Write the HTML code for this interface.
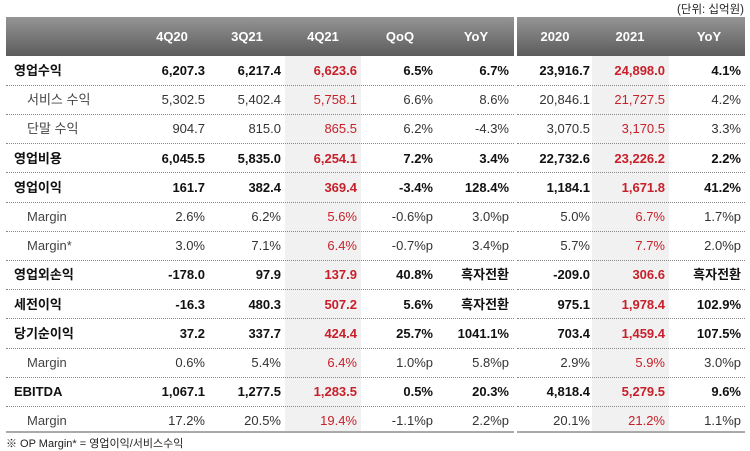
<!DOCTYPE html>
<html><head><meta charset="utf-8">
<style>
*{margin:0;padding:0;box-sizing:border-box}
body{width:750px;height:451px;background:#fff;position:relative;overflow:hidden;font-family:"Liberation Sans","Noto Sans CJK KR",sans-serif;font-size:13px;color:#222}
.hdr{position:absolute;top:17px;height:39px;background:linear-gradient(#959595,#5c5c5c)}
.h{position:absolute;top:17px;height:39px;line-height:39px;color:#fff;font-weight:bold;font-size:13px;width:80px;text-align:center;margin-left:-40px}
.shade{position:absolute;top:56px;height:376px;background:#f1f1f1}
.row{position:absolute;left:0;width:750px;height:29.2px}
.row span{position:absolute;top:0;line-height:29px;white-space:nowrap}
.row .l{left:14px}
.row .sub{left:27px;color:#444}
.v{text-align:right;width:100px}
.sep{position:absolute;height:0;border-top:1px dotted #888}
.b span{font-weight:bold;color:#111}
.r{color:#c8202a!important}
.n span{color:#333}
</style></head><body>
<div style="position:absolute;right:6px;top:1px;font-size:11.5px;color:#222">(단위: 십억원)</div>
<div class="hdr" style="left:6px;width:508px"></div>
<div class="hdr" style="left:517px;width:228px"></div>
<div class="h" style="left:172px">4Q20</div>
<div class="h" style="left:247px">3Q21</div>
<div class="h" style="left:323px">4Q21</div>
<div class="h" style="left:400px">QoQ</div>
<div class="h" style="left:476px">YoY</div>
<div class="h" style="left:555px">2020</div>
<div class="h" style="left:630px">2021</div>
<div class="h" style="left:709px">YoY</div>
<div class="shade" style="left:285px;width:76px"></div>
<div class="shade" style="left:592px;width:77px"></div>
<div id="rows"></div>
<div style="position:absolute;left:6px;top:431px;width:508px;border-top:2px solid #aaa"></div>
<div style="position:absolute;left:517px;top:431px;width:228px;border-top:2px solid #aaa"></div>
<div style="position:absolute;left:6px;top:435px;font-size:11px;color:#222">※ OP Margin* = 영업이익/서비스수익</div>

<div class="row b" style="top:56px"><span class="l">영업수익</span><span class="v" style="left:105px">6,207.3</span><span class="v" style="left:181px">6,217.4</span><span class="v r" style="left:257px">6,623.6</span><span class="v" style="left:333px">6.5%</span><span class="v" style="left:409px">6.7%</span><span class="v" style="left:490px">23,916.7</span><span class="v r" style="left:565px">24,898.0</span><span class="v" style="left:641px">4.1%</span></div>
<div class="row n" style="top:85.2px"><span class="sub">서비스 수익</span><span class="v" style="left:105px">5,302.5</span><span class="v" style="left:181px">5,402.4</span><span class="v r" style="left:257px">5,758.1</span><span class="v" style="left:333px">6.6%</span><span class="v" style="left:409px">8.6%</span><span class="v" style="left:490px">20,846.1</span><span class="v r" style="left:565px">21,727.5</span><span class="v" style="left:641px">4.2%</span></div>
<div class="row n" style="top:114.4px"><span class="sub">단말 수익</span><span class="v" style="left:105px">904.7</span><span class="v" style="left:181px">815.0</span><span class="v r" style="left:257px">865.5</span><span class="v" style="left:333px">6.2%</span><span class="v" style="left:409px">-4.3%</span><span class="v" style="left:490px">3,070.5</span><span class="v r" style="left:565px">3,170.5</span><span class="v" style="left:641px">3.3%</span></div>
<div class="row b" style="top:143.6px"><span class="l">영업비용</span><span class="v" style="left:105px">6,045.5</span><span class="v" style="left:181px">5,835.0</span><span class="v r" style="left:257px">6,254.1</span><span class="v" style="left:333px">7.2%</span><span class="v" style="left:409px">3.4%</span><span class="v" style="left:490px">22,732.6</span><span class="v r" style="left:565px">23,226.2</span><span class="v" style="left:641px">2.2%</span></div>
<div class="row b" style="top:172.8px"><span class="l">영업이익</span><span class="v" style="left:105px">161.7</span><span class="v" style="left:181px">382.4</span><span class="v r" style="left:257px">369.4</span><span class="v" style="left:333px">-3.4%</span><span class="v" style="left:409px">128.4%</span><span class="v" style="left:490px">1,184.1</span><span class="v r" style="left:565px">1,671.8</span><span class="v" style="left:641px">41.2%</span></div>
<div class="row n" style="top:202px"><span class="sub">Margin</span><span class="v" style="left:105px">2.6%</span><span class="v" style="left:181px">6.2%</span><span class="v r" style="left:257px">5.6%</span><span class="v" style="left:333px">-0.6%p</span><span class="v" style="left:409px">3.0%p</span><span class="v" style="left:490px">5.0%</span><span class="v r" style="left:565px">6.7%</span><span class="v" style="left:641px">1.7%p</span></div>
<div class="row n" style="top:231.2px"><span class="sub">Margin*</span><span class="v" style="left:105px">3.0%</span><span class="v" style="left:181px">7.1%</span><span class="v r" style="left:257px">6.4%</span><span class="v" style="left:333px">-0.7%p</span><span class="v" style="left:409px">3.4%p</span><span class="v" style="left:490px">5.7%</span><span class="v r" style="left:565px">7.7%</span><span class="v" style="left:641px">2.0%p</span></div>
<div class="row b" style="top:260.4px"><span class="l">영업외손익</span><span class="v" style="left:105px">-178.0</span><span class="v" style="left:181px">97.9</span><span class="v r" style="left:257px">137.9</span><span class="v" style="left:333px">40.8%</span><span class="v" style="left:409px">흑자전환</span><span class="v" style="left:490px">-209.0</span><span class="v r" style="left:565px">306.6</span><span class="v" style="left:641px">흑자전환</span></div>
<div class="row b" style="top:289.6px"><span class="l">세전이익</span><span class="v" style="left:105px">-16.3</span><span class="v" style="left:181px">480.3</span><span class="v r" style="left:257px">507.2</span><span class="v" style="left:333px">5.6%</span><span class="v" style="left:409px">흑자전환</span><span class="v" style="left:490px">975.1</span><span class="v r" style="left:565px">1,978.4</span><span class="v" style="left:641px">102.9%</span></div>
<div class="row b" style="top:318.8px"><span class="l">당기순이익</span><span class="v" style="left:105px">37.2</span><span class="v" style="left:181px">337.7</span><span class="v r" style="left:257px">424.4</span><span class="v" style="left:333px">25.7%</span><span class="v" style="left:409px">1041.1%</span><span class="v" style="left:490px">703.4</span><span class="v r" style="left:565px">1,459.4</span><span class="v" style="left:641px">107.5%</span></div>
<div class="row n" style="top:348px"><span class="sub">Margin</span><span class="v" style="left:105px">0.6%</span><span class="v" style="left:181px">5.4%</span><span class="v r" style="left:257px">6.4%</span><span class="v" style="left:333px">1.0%p</span><span class="v" style="left:409px">5.8%p</span><span class="v" style="left:490px">2.9%</span><span class="v r" style="left:565px">5.9%</span><span class="v" style="left:641px">3.0%p</span></div>
<div class="row b" style="top:377.2px"><span class="l">EBITDA</span><span class="v" style="left:105px">1,067.1</span><span class="v" style="left:181px">1,277.5</span><span class="v r" style="left:257px">1,283.5</span><span class="v" style="left:333px">0.5%</span><span class="v" style="left:409px">20.3%</span><span class="v" style="left:490px">4,818.4</span><span class="v r" style="left:565px">5,279.5</span><span class="v" style="left:641px">9.6%</span></div>
<div class="row n" style="top:406.4px"><span class="sub">Margin</span><span class="v" style="left:105px">17.2%</span><span class="v" style="left:181px">20.5%</span><span class="v r" style="left:257px">19.4%</span><span class="v" style="left:333px">-1.1%p</span><span class="v" style="left:409px">2.2%p</span><span class="v" style="left:490px">20.1%</span><span class="v r" style="left:565px">21.2%</span><span class="v" style="left:641px">1.1%p</span></div>

<div class="sep" style="left:6px;width:508px;top:85px"></div><div class="sep" style="left:517px;width:228px;top:85px"></div>
<div class="sep" style="left:6px;width:508px;top:114px"></div><div class="sep" style="left:517px;width:228px;top:114px"></div>
<div class="sep" style="left:6px;width:508px;top:143px"></div><div class="sep" style="left:517px;width:228px;top:143px"></div>
<div class="sep" style="left:6px;width:508px;top:172px"></div><div class="sep" style="left:517px;width:228px;top:172px"></div>
<div class="sep" style="left:6px;width:508px;top:202px"></div><div class="sep" style="left:517px;width:228px;top:202px"></div>
<div class="sep" style="left:6px;width:508px;top:231px"></div><div class="sep" style="left:517px;width:228px;top:231px"></div>
<div class="sep" style="left:6px;width:508px;top:260px"></div><div class="sep" style="left:517px;width:228px;top:260px"></div>
<div class="sep" style="left:6px;width:508px;top:289px"></div><div class="sep" style="left:517px;width:228px;top:289px"></div>
<div class="sep" style="left:6px;width:508px;top:318px"></div><div class="sep" style="left:517px;width:228px;top:318px"></div>
<div class="sep" style="left:6px;width:508px;top:348px"></div><div class="sep" style="left:517px;width:228px;top:348px"></div>
<div class="sep" style="left:6px;width:508px;top:377px"></div><div class="sep" style="left:517px;width:228px;top:377px"></div>
<div class="sep" style="left:6px;width:508px;top:406px"></div><div class="sep" style="left:517px;width:228px;top:406px"></div>
</body></html>
